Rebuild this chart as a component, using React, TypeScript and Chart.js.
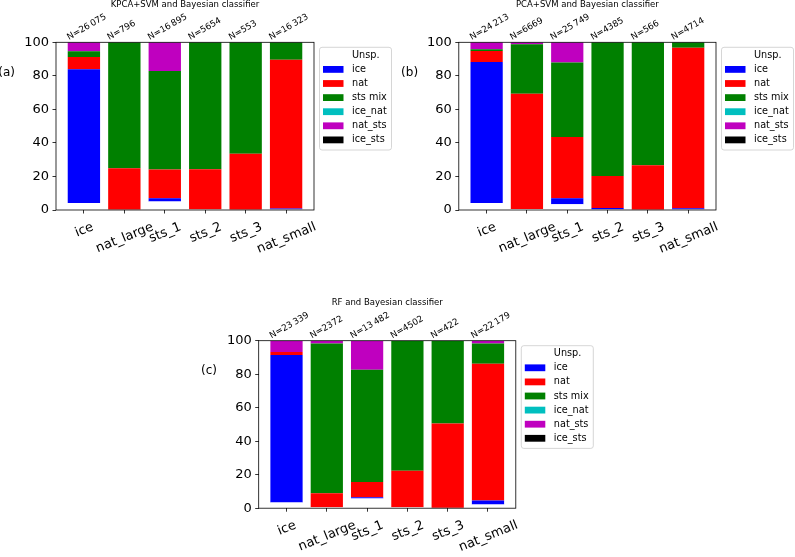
import React, { useEffect, useRef } from "react";
import { Chart, registerables } from "chart.js";

Chart.register(...registerables);

const FONT = "'DejaVu Sans', 'Liberation Sans', sans-serif";

const categories = ["ice", "nat_large", "sts_1", "sts_2", "sts_3", "nat_small"];
const classNames = ["Unsp.", "ice", "nat", "sts mix", "ice_nat", "nat_sts", "ice_sts"];
const classColors = ["#ffffff", "#0000ff", "#ff0000", "#008000", "#00bfbf", "#bf00bf", "#000000"];
const yTicks = [0, 20, 40, 60, 80, 100];

// (a) KPCA+SVM and Bayesian classifier — percentages per class
const aUnsp = [4.2, 0, 5.0, 0.4, 0, 0.4];
const aIce = [79.7, 0, 2.0, 0, 0, 0.5];
const aNat = [7.3, 24.9, 17.1, 23.9, 33.5, 88.7];
const aSts = [3.4, 75.1, 58.8, 75.7, 66.5, 10.4];
const aIceNat = [0, 0, 0, 0, 0, 0];
const aNatSts = [5.4, 0, 17.1, 0, 0, 0];
const aIceSts = [0, 0, 0, 0, 0, 0];
const aCounts = [26075, 796, 16895, 5654, 553, 16323];

// (b) PCA+SVM and Bayesian classifier
const bUnsp = [4.2, 0.6, 3.4, 0.4, 0.2, 0.4];
const bIce = [84.0, 0, 3.6, 0.8, 0, 0.6];
const bNat = [6.6, 68.7, 36.6, 19.1, 26.5, 95.8];
const bSts = [1.0, 29.5, 44.4, 79.7, 73.3, 3.2];
const bIceNat = [0, 0, 0, 0, 0, 0];
const bNatSts = [4.2, 1.2, 12.0, 0, 0, 0];
const bIceSts = [0, 0, 0, 0, 0, 0];
const bCounts = [24213, 6669, 25749, 4385, 566, 4714];

// (c) RF and Bayesian classifier
const cUnsp = [3.4, 0.6, 5.8, 0.6, 0, 2.2];
const cIce = [88.1, 0, 0.8, 0, 0, 2.4];
const cNat = [1.7, 8.3, 9.1, 21.7, 50.5, 81.7];
const cSts = [0, 89.5, 67.0, 77.7, 49.5, 12.1];
const cIceNat = [0, 0, 0, 0, 0, 0];
const cNatSts = [6.8, 1.6, 17.3, 0, 0, 1.6];
const cIceSts = [0, 0, 0, 0, 0, 0];
const cCounts = [23339, 2372, 13482, 4502, 422, 22179];

type Panel = {
  title: string;
  tag: string;
  series: number[][];
  counts: number[];
  left: number;
  right: number;
  top: number;
  bottom: number;
};

const W = 795;
const H = 557;
const YAXIS_W = 40;
const XAXIS_H = 40;

const panels: Panel[] = [
  {
    title: "KPCA+SVM and Bayesian classifier",
    tag: "(a)",
    series: [aUnsp, aIce, aNat, aSts, aIceNat, aNatSts, aIceSts],
    counts: aCounts,
    left: 56,
    right: 314,
    top: 42.3,
    bottom: 210,
  },
  {
    title: "PCA+SVM and Bayesian classifier",
    tag: "(b)",
    series: [bUnsp, bIce, bNat, bSts, bIceNat, bNatSts, bIceSts],
    counts: bCounts,
    left: 458.8,
    right: 716,
    top: 42.3,
    bottom: 210,
  },
  {
    title: "RF and Bayesian classifier",
    tag: "(c)",
    series: [cUnsp, cIce, cNat, cSts, cIceNat, cNatSts, cIceSts],
    counts: cCounts,
    left: 258.7,
    right: 515.8,
    top: 340.7,
    bottom: 508.2,
  },
];

function fmtN(n: number): string {
  const s = String(n);
  if (n < 10000) return "N=" + s;
  return "N=" + s.replace(/\B(?=(\d{3})+(?!\d))/g, "\u2009");
}

function makeOverlay(p: Panel) {
  return {
    id: "overlay",
    afterDatasetsDraw(chart: any) {
      const ctx = chart.ctx as CanvasRenderingContext2D;
      const a = chart.chartArea;
      ctx.save();
      ctx.strokeStyle = "#000";
      ctx.lineWidth = 0.8;
      ctx.strokeRect(a.left, a.top, a.right - a.left, a.bottom - a.top);
      ctx.restore();
    },
    afterDraw(chart: any) {
      const ctx = chart.ctx as CanvasRenderingContext2D;
      const a = chart.chartArea;
      const xs = chart.scales.x;
      ctx.save();
      ctx.fillStyle = "#000";

      // category labels (rotated, centred on tick)
      const fs = 13;
      ctx.font = `${fs}px ${FONT}`;
      const ang = (22 * Math.PI) / 180;
      categories.forEach((c, i) => {
        const x = xs.getPixelForValue(i);
        const L = ctx.measureText(c).width;
        const h = fs * 1.164;
        const bh = L * Math.sin(ang) + h * Math.cos(ang);
        const cy = a.bottom + 8.5 + bh / 2;
        ctx.save();
        ctx.translate(x, cy);
        ctx.rotate(-ang);
        ctx.textAlign = "center";
        ctx.textBaseline = "alphabetic";
        ctx.fillText(c, 0, fs * 0.346);
        ctx.restore();
      });

      // N labels above bars
      const meta = chart.getDatasetMeta(1);
      ctx.font = `8.8px ${FONT}`;
      const nAng = (30 * Math.PI) / 180;
      p.counts.forEach((n, i) => {
        const el = meta.data[i];
        const x = xs.getPixelForValue(i);
        const half = el && el.width ? el.width / 2 : 16;
        ctx.save();
        ctx.translate(x - half + 1.2, a.top - 2.3);
        ctx.rotate(-nAng);
        ctx.textAlign = "left";
        ctx.textBaseline = "alphabetic";
        ctx.fillText(fmtN(n), 0, 0);
        ctx.restore();
      });

      // title
      ctx.font = `8.5px ${FONT}`;
      ctx.textAlign = "center";
      ctx.textBaseline = "middle";
      ctx.fillText(p.title, (a.left + a.right) / 2, a.top - 37.5);

      // panel tag
      ctx.font = `12px ${FONT}`;
      ctx.textAlign = "left";
      ctx.textBaseline = "middle";
      ctx.fillText(p.tag, a.left - 57.7, a.top + 30.5);

      // legend
      const lx = a.right + 5.5;
      const ly = a.top + 5;
      const lw = 72;
      const lh = 102.7;
      const r = 2.5;
      ctx.beginPath();
      ctx.moveTo(lx + r, ly);
      ctx.lineTo(lx + lw - r, ly);
      ctx.arcTo(lx + lw, ly, lx + lw, ly + r, r);
      ctx.lineTo(lx + lw, ly + lh - r);
      ctx.arcTo(lx + lw, ly + lh, lx + lw - r, ly + lh, r);
      ctx.lineTo(lx + r, ly + lh);
      ctx.arcTo(lx, ly + lh, lx, ly + lh - r, r);
      ctx.lineTo(lx, ly + r);
      ctx.arcTo(lx, ly, lx + r, ly, r);
      ctx.closePath();
      ctx.fillStyle = "rgba(255,255,255,0.8)";
      ctx.fill();
      ctx.strokeStyle = "#cccccc";
      ctx.lineWidth = 0.8;
      ctx.stroke();

      ctx.font = `9.7px ${FONT}`;
      ctx.textAlign = "left";
      ctx.textBaseline = "middle";
      classNames.forEach((name, i) => {
        const cy = ly + 8 + i * 14.1;
        ctx.fillStyle = classColors[i];
        ctx.fillRect(lx + 3.5, cy - 3.4, 20.5, 6.8);
        ctx.fillStyle = "#000";
        ctx.fillText(name, lx + 32.5, cy);
      });

      ctx.restore();
    },
  };
}

function PanelChart({ p }: { p: Panel }) {
  const ref = useRef<HTMLCanvasElement | null>(null);
  useEffect(() => {
    if (!ref.current) return;
    const datasets = classNames.map((name, k) => ({
      label: name,
      data: p.series[k].map((v, i) => ({ x: i, y: v })),
      backgroundColor: classColors[k],
      borderWidth: 0,
      barPercentage: 0.8,
      categoryPercentage: 1.0,
    }));
    const chart = new Chart(ref.current, {
      type: "bar",
      data: { datasets },
      options: {
        animation: false,
        responsive: false,
        events: [],
        layout: {
          padding: {
            left: p.left - YAXIS_W,
            right: W - p.right,
            top: p.top,
            bottom: H - p.bottom - XAXIS_H,
          },
        },
        plugins: {
          legend: { display: false },
          tooltip: { enabled: false },
          title: { display: false },
        },
        scales: {
          x: {
            type: "linear",
            offset: false,
            min: -0.69,
            max: categories.length - 1 + 0.69,
            stacked: true,
            afterBuildTicks: (s: any) => {
              s.ticks = categories.map((_, i) => ({ value: i }));
            },
            afterFit: (s: any) => {
              s.height = XAXIS_H;
            },
            ticks: { display: false },
            grid: {
              offset: false,
              drawOnChartArea: false,
              drawTicks: true,
              tickLength: 3.5,
              color: "#000",
              lineWidth: 0.8,
            },
            border: { display: false },
          },
          y: {
            type: "linear",
            min: 0,
            max: 100,
            stacked: true,
            afterBuildTicks: (s: any) => {
              s.ticks = yTicks.map((v) => ({ value: v }));
            },
            afterFit: (s: any) => {
              s.width = YAXIS_W;
            },
            ticks: {
              color: "#000",
              font: { family: FONT, size: 13 },
              padding: 3.5,
              callback: (v: any) => String(v),
            },
            grid: {
              drawOnChartArea: false,
              drawTicks: true,
              tickLength: 3.5,
              color: "#000",
              lineWidth: 0.8,
            },
            border: { display: false },
          },
        },
      } as any,
      plugins: [makeOverlay(p)],
    });
    return () => chart.destroy();
  }, [p]);
  return (
    <canvas
      ref={ref}
      width={W}
      height={H}
      style={{ position: "absolute", left: 0, top: 0, width: W, height: H }}
    />
  );
}

export default function App() {
  return (
    <div
      style={{
        position: "fixed",
        left: 0,
        top: 0,
        width: W,
        height: H,
        background: "#fff",
        overflow: "hidden",
      }}
    >
      {panels.map((p) => (
        <PanelChart key={p.tag} p={p} />
      ))}
    </div>
  );
}
